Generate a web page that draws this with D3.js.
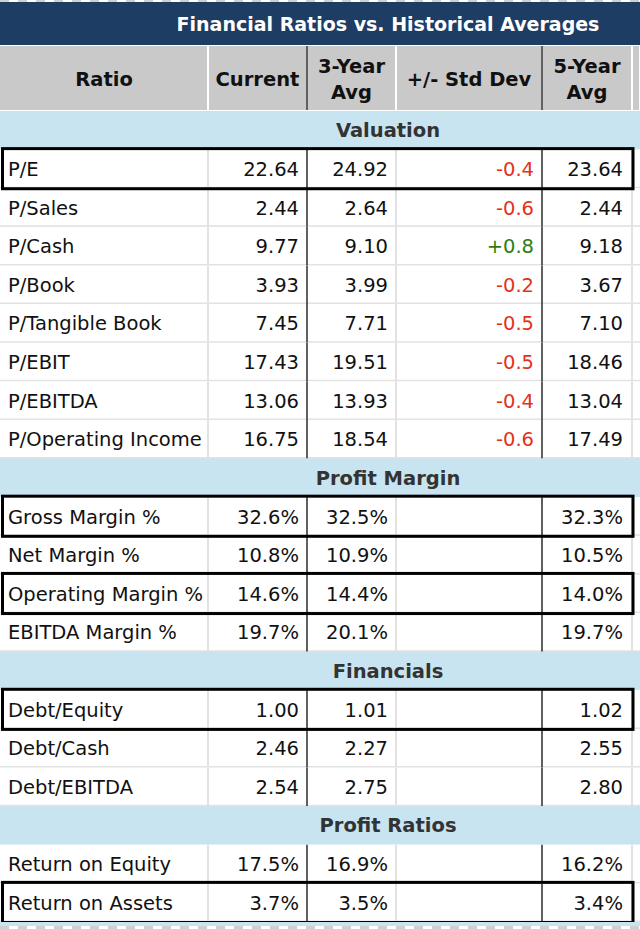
<!DOCTYPE html>
<html>
<head>
<meta charset="utf-8">
<script src="https://cdn.jsdelivr.net/npm/d3@7"></script>
<style>
  html, body { margin: 0; padding: 0; background: #ffffff; }
  svg { display: block; }
</style>
</head>
<body>
<script>
// ---------------- DATA ----------------
const title = "Financial Ratios vs. Historical Averages";
const headers = [["Ratio"], ["Current"], ["3-Year", "Avg"], ["+/- Std Dev"], ["5-Year", "Avg"]];
const sections = ["Valuation", "Profit Margin", "Financials", "Profit Ratios"];

const ratioNames = [
  "P/E", "P/Sales", "P/Cash", "P/Book", "P/Tangible Book", "P/EBIT", "P/EBITDA", "P/Operating Income",
  "Gross Margin %", "Net Margin %", "Operating Margin %", "EBITDA Margin %",
  "Debt/Equity", "Debt/Cash", "Debt/EBITDA",
  "Return on Equity", "Return on Assets"
];
const ratioSection = [
  "Valuation", "Valuation", "Valuation", "Valuation", "Valuation", "Valuation", "Valuation", "Valuation",
  "Profit Margin", "Profit Margin", "Profit Margin", "Profit Margin",
  "Financials", "Financials", "Financials",
  "Profit Ratios", "Profit Ratios"
];
const currentValues = [22.64, 2.44, 9.77, 3.93, 7.45, 17.43, 13.06, 16.75, 32.6, 10.8, 14.6, 19.7, 1.00, 2.46, 2.54, 17.5, 3.7];
const avg3Values    = [24.92, 2.64, 9.10, 3.99, 7.71, 19.51, 13.93, 18.54, 32.5, 10.9, 14.4, 20.1, 1.01, 2.27, 2.75, 16.9, 3.5];
const stdDevValues  = [-0.4, -0.6, 0.8, -0.2, -0.5, -0.5, -0.4, -0.6, null, null, null, null, null, null, null, null, null];
const avg5Values    = [23.64, 2.44, 9.18, 3.67, 7.10, 18.46, 13.04, 17.49, 32.3, 10.5, 14.0, 19.7, 1.02, 2.55, 2.80, 16.2, 3.4];
const percentSections = ["Profit Margin", "Profit Ratios"];
const highlighted = ["P/E", "Gross Margin %", "Operating Margin %", "Debt/Equity", "Return on Assets"];

// ---------------- LAYOUT ----------------
const W = 640, H = 929;
const colEdges = [0, 208, 307, 396, 542, 632, 640];
const FONT = "'DejaVu Sans', Verdana, sans-serif";
const C = {
  navy: "#1e3d64", headerGray: "#c9c9c9", sectionBlue: "#c8e4f1",
  grid: "#e2e2e2", dark: "#2b2b2b", text: "#111111", sectionText: "#333333",
  red: "#e4311b", green: "#2d7d16"
};
const loc = d3.formatLocale({ decimal: ".", thousands: ",", grouping: [3], currency: ["$", ""], minus: "-" });

const svg = d3.select("body").append("svg").attr("width", W).attr("height", H);

// build rows
const rows = [];
sections.forEach(s => {
  rows.push({ key: "S:" + s, type: "section", label: s });
  ratioNames.forEach((n, i) => {
    if (ratioSection[i] === s) {
      rows.push({
        key: "R:" + n, type: "ratio", label: n, pct: percentSections.includes(s),
        cur: currentValues[i], a3: avg3Values[i], sd: stdDevValues[i], a5: avg5Values[i],
        hl: highlighted.includes(n)
      });
    }
  });
});

const y = d3.scaleBand().domain(rows.map(r => r.key)).range([111, 922]).paddingInner(0);
const colX = d3.scaleOrdinal().domain([0, 1, 2, 3, 4, 5]).range(colEdges.slice(0, 6));
const colW = i => colEdges[i + 1] - colEdges[i];

// transparency checker strips (top and bottom edges)
const checker = svg.append("defs").append("pattern")
  .attr("id", "chk").attr("width", 18).attr("height", 6).attr("patternUnits", "userSpaceOnUse");
checker.append("rect").attr("width", 18).attr("height", 6).attr("fill", "#ffffff");
checker.append("rect").attr("width", 9).attr("height", 6).attr("fill", "#d0d0d0");
svg.append("rect").attr("x", 0).attr("y", 0).attr("width", W).attr("height", 2).attr("fill", "url(#chk)");

// title bar
svg.append("rect").attr("x", 0).attr("y", 2).attr("width", W).attr("height", 43).attr("fill", C.navy);
svg.append("text").attr("x", 388).attr("y", 30.5).attr("text-anchor", "middle")
  .attr("font-family", FONT).attr("font-weight", "bold").attr("font-size", 19)
  .attr("fill", "#ffffff").text(title);

// header
const hTop = 46, hBot = 110;
svg.append("rect").attr("x", 0).attr("y", 45).attr("width", W).attr("height", 66).attr("fill", "#ffffff");
d3.range(6).forEach(i => {
  svg.append("rect").attr("x", colX(i) + (i === 0 ? 0 : 1)).attr("y", hTop)
    .attr("width", colW(i) - (i === 0 ? 1 : 2)).attr("height", hBot - hTop).attr("fill", C.headerGray);
});
headers.forEach((lines, i) => {
  const cx = colX(i) + colW(i) / 2;
  const t = svg.append("text").attr("text-anchor", "middle")
    .attr("font-family", FONT).attr("font-weight", "bold").attr("font-size", 19.5).attr("fill", "#111");
  if (lines.length === 1) {
    t.append("tspan").attr("x", cx).attr("y", 86).text(lines[0]);
  } else {
    t.append("tspan").attr("x", cx).attr("y", 73).text(lines[0]);
    t.append("tspan").attr("x", cx).attr("y", 99).text(lines[1]);
  }
});
[307, 542].forEach(x => svg.append("line").attr("x1", x).attr("x2", x).attr("y1", hTop).attr("y2", hBot)
  .attr("stroke", C.dark).attr("stroke-width", 1.5));

// body rows
const g = svg.append("g");
rows.forEach(r => {
  const top = y(r.key), h = y.bandwidth();
  if (r.type === "section") {
    g.append("rect").attr("x", 0).attr("y", top).attr("width", W).attr("height", h).attr("fill", C.sectionBlue);
    g.append("text").attr("x", 388).attr("y", top + h / 2 + 7).attr("text-anchor", "middle")
      .attr("font-family", FONT).attr("font-weight", "bold").attr("font-size", 19.5)
      .attr("fill", C.sectionText).text(r.label);
  } else {
    g.append("rect").attr("x", 0).attr("y", top).attr("width", W).attr("height", h).attr("fill", "#ffffff");
    g.append("line").attr("x1", 0).attr("x2", W).attr("y1", top + h - 0.5).attr("y2", top + h - 0.5)
      .attr("stroke", C.grid).attr("stroke-width", 2);
    [1, 3, 5].forEach(i => g.append("line").attr("x1", colX(i)).attr("x2", colX(i))
      .attr("y1", top).attr("y2", top + h).attr("stroke", C.grid).attr("stroke-width", 2));
    [2, 4].forEach(i => g.append("line").attr("x1", colX(i)).attr("x2", colX(i))
      .attr("y1", top).attr("y2", top + h).attr("stroke", C.dark).attr("stroke-width", 1.5));
    const by = top + h / 2 + 7;
    const txt = (x, anchor, s, fill) => g.append("text").attr("x", x).attr("y", by)
      .attr("text-anchor", anchor).attr("font-family", FONT).attr("font-size", 19.5)
      .attr("fill", fill || C.text).text(s);
    const fmt = v => r.pct ? loc.format(".1f")(v) + "%" : loc.format(".2f")(v);
    txt(8, "start", r.label);
    txt(colX(2) - 8, "end", fmt(r.cur));
    txt(colX(3) - 8, "end", fmt(r.a3));
    if (r.sd !== null) txt(colX(4) - 8, "end", loc.format("+.1f")(r.sd), r.sd < 0 ? C.red : C.green);
    txt(colX(5) - 9, "end", fmt(r.a5));
  }
});

// highlight boxes
rows.filter(r => r.hl).forEach(r => {
  const top = y(r.key), h = y.bandwidth();
  svg.append("rect").attr("x", 2.5).attr("y", top - 1).attr("width", 630.5).attr("height", h + 1.5)
    .attr("fill", "none").attr("stroke", "#000").attr("stroke-width", 3);
});

// bottom strip
svg.append("rect").attr("x", 0).attr("y", 922).attr("width", W).attr("height", 4).attr("fill", C.sectionBlue);
svg.append("rect").attr("x", 0).attr("y", 926).attr("width", W).attr("height", 3).attr("fill", "url(#chk)");
</script>
</body>
</html>
